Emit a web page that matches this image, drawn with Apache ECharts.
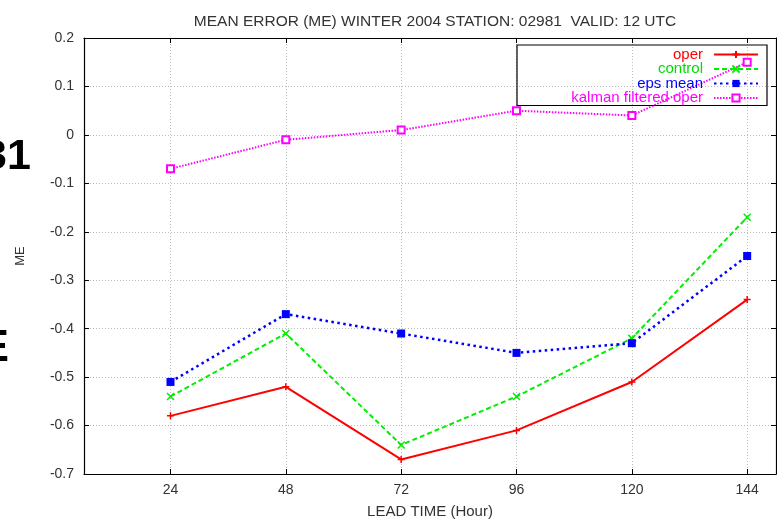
<!DOCTYPE html>
<html>
<head>
<meta charset="utf-8">
<script src="https://cdn.jsdelivr.net/npm/echarts@6/dist/echarts.min.js"></script>
<style>
  html, body { margin: 0; padding: 0; background: #fff; }
  #main { width: 777px; height: 520px; }
</style>
</head>
<body>
<div id="main"></div>
<script>
// lead times (hours) and mean error per forecast
const leadTimes = [24, 48, 72, 96, 120, 144];
const oper = [-0.58, -0.52, -0.67, -0.61, -0.51, -0.34];
const control = [-0.54, -0.41, -0.64, -0.54, -0.42, -0.17];
const epsMean = [-0.51, -0.37, -0.41, -0.45, -0.43, -0.25];
const kalman = [-0.07, -0.01, 0.01, 0.05, 0.04, 0.15];

function pairs(vals) {
  return leadTimes.map((t, i) => [t, vals[i]]);
}

const font = 'Liberation Sans';
const plusPath = 'path://M0,5L10,5M5,0L5,10';
const crossPath = 'path://M0,0L10,10M10,0L0,10';

let myChart = echarts.init(document.getElementById('main'));

const options = {
  animation: false,
  title: {
    text: 'MEAN ERROR (ME) WINTER 2004 STATION: 02981  VALID: 12 UTC',
    left: 430, top: 9, textAlign: 'center',
    textStyle: { fontFamily: font, fontSize: 15.5, fontWeight: 'normal', color: '#333' }
  },
  grid: { left: 84, right: 1, top: 38, bottom: 46, outerBoundsMode: 'none' },
  legend: {
    orient: 'vertical',
    right: 10, top: 45,
    align: 'right',
    padding: [2, 8, 0, 6],
    itemWidth: 44, itemHeight: 9, itemGap: -0.5,
    borderColor: '#000', borderWidth: 1.2,
    textStyle: { fontFamily: font, fontSize: 15, width: 180, align: 'right', lineHeight: 13.5, padding: [0, 6, 0, 0] },
    data: [
      { name: 'oper', textStyle: { color: '#ff0000' } },
      { name: 'control', textStyle: { color: '#00dd00' } },
      { name: 'eps mean', textStyle: { color: '#0000ff' } },
      { name: 'kalman filtered oper', textStyle: { color: '#ff00ff' } }
    ]
  },
  xAxis: [{
    type: 'value', min: 6, max: 150,
    name: 'LEAD TIME (Hour)', nameLocation: 'middle', nameGap: 30,
    nameTextStyle: { fontFamily: font, fontSize: 15, color: '#333' },
    axisLine: { onZero: false, lineStyle: { color: '#000', width: 1.2 } },
    axisTick: { inside: true, length: 5, customValues: leadTimes, lineStyle: { color: '#000' } },
    axisLabel: { customValues: leadTimes, fontFamily: font, fontSize: 14, color: '#333', margin: 9 },
    splitLine: { show: true, lineStyle: { color: '#bbb', type: [1, 2] } }
  }, {
    type: 'value', min: 6, max: 150, position: 'top',
    axisLine: { onZero: false, lineStyle: { color: '#000', width: 1.2 } },
    axisTick: { inside: true, length: 5, customValues: leadTimes, lineStyle: { color: '#000' } },
    axisLabel: { show: false },
    splitLine: { show: false }
  }],
  yAxis: [{
    type: 'value', min: -0.7, max: 0.2, interval: 0.1,
    name: 'ME', nameLocation: 'middle', nameGap: 57,
    nameTextStyle: { fontFamily: font, fontSize: 13, color: '#333' },
    axisLine: { show: true, onZero: false, lineStyle: { color: '#000', width: 1.2 } },
    axisTick: { show: true, inside: true, length: 5, lineStyle: { color: '#000' } },
    axisLabel: {
      fontFamily: font, fontSize: 14, color: '#333', margin: 10,
      formatter: v => (Math.abs(v) < 1e-9 ? '0' : String(Math.round(v * 10) / 10))
    },
    splitLine: { show: true, lineStyle: { color: '#bbb', type: [1, 2] } }
  }, {
    type: 'value', min: -0.7, max: 0.2, interval: 0.1, position: 'right',
    axisLine: { show: true, onZero: false, lineStyle: { color: '#000', width: 1.2 } },
    axisTick: { show: true, inside: true, length: 5, lineStyle: { color: '#000' } },
    axisLabel: { show: false },
    splitLine: { show: false }
  }],
  graphic: [
    { type: 'text', left: -17, top: 136, style: { text: '31', font: 'bold 43px "Liberation Sans"', fill: '#000' } },
    { type: 'text', left: -21, top: 326, style: { text: 'E', font: 'bold 45px "Liberation Sans"', fill: '#000' } }
  ],
  series: [{
    name: 'oper', type: 'line', data: pairs(oper),
    symbol: plusPath, symbolSize: 7,
    lineStyle: { color: '#ff0000', width: 2 },
    itemStyle: { color: '#ff0000', borderColor: '#ff0000', borderWidth: 1.5 }
  }, {
    name: 'control', type: 'line', data: pairs(control),
    symbol: crossPath, symbolSize: 7,
    lineStyle: { color: '#00ee00', width: 2, type: [5, 3] },
    itemStyle: { color: '#00ee00', borderColor: '#00ee00', borderWidth: 1.5 }
  }, {
    name: 'eps mean', type: 'line', data: pairs(epsMean),
    symbol: 'rect', symbolSize: 8,
    lineStyle: { color: '#0000ff', width: 2.5, type: [2.5, 3.5] },
    itemStyle: { color: '#0000ff' }
  }, {
    name: 'kalman filtered oper', type: 'line', data: pairs(kalman),
    symbol: 'emptyRect', symbolSize: 7,
    lineStyle: { color: '#ff00ff', width: 2, type: [1.5, 1.5] },
    itemStyle: { color: '#ff00ff', borderWidth: 1.5 }
  }]
};

myChart.setOption(options);
</script>
</body>
</html>
